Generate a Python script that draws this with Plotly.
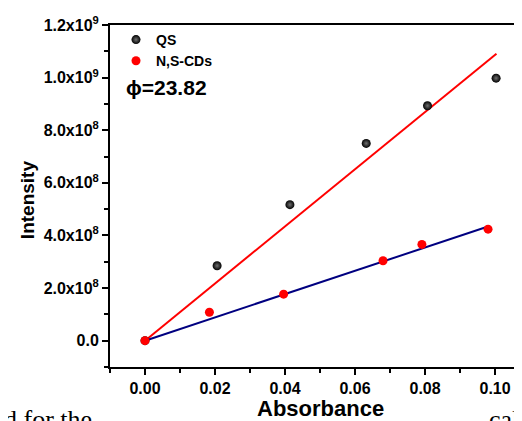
import plotly.graph_objects as go

# Data
qs_abs = [0.0, 0.0206, 0.0414, 0.0632, 0.0807, 0.1003]
qs_int = [0.0, 2.85e8, 5.17e8, 7.5e8, 8.93e8, 9.98e8]
cd_abs = [0.0, 0.0184, 0.0396, 0.068, 0.0791, 0.098]
cd_int = [0.0, 1.08e8, 1.77e8, 3.04e8, 3.66e8, 4.24e8]
qs_fit_x = [0.0, 0.1004]
qs_fit_y = [0.0, 1.091e9]
cd_fit_x = [0.0, 0.098]
cd_fit_y = [0.0, 4.34e8]

x_ticks = [0.0, 0.02, 0.04, 0.06, 0.08, 0.10]
x_ticktext = ["0.00", "0.02", "0.04", "0.06", "0.08", "0.10"]
y_ticks = [0, 2e8, 4e8, 6e8, 8e8, 1.0e9, 1.2e9]
y_ticktext = ["0.0", "2.0x10<sup>8</sup>", "4.0x10<sup>8</sup>", "6.0x10<sup>8</sup>",
              "8.0x10<sup>8</sup>", "1.0x10<sup>9</sup>", "1.2x10<sup>9</sup>"]

FONT = "Arial, Liberation Sans, sans-serif"
SERIF = "Liberation Serif, Times New Roman, serif"

# the page body adds an 8px offset; layout is computed in screen pixels
OFF = 8
W, H = 522, 421
L, T = 110 - OFF, 25 - OFF
R = 522 - (522 - OFF)  # plot reaches the right screen edge
B = H - (366.7 - OFF)
PW, PH = W - L - R, H - T - B


def px(xs):
    return (xs - OFF - L) / PW


def py(ys):
    return (H - B - (ys - OFF)) / PH


fig = go.Figure()
fig.add_trace(go.Scatter(x=qs_fit_x, y=qs_fit_y, mode="lines",
                         line=dict(color="#ff0000", width=2), showlegend=False))
fig.add_trace(go.Scatter(x=cd_fit_x, y=cd_fit_y, mode="lines",
                         line=dict(color="#000080", width=2), showlegend=False))
fig.add_trace(go.Scatter(x=qs_abs, y=qs_int, mode="markers", name="QS",
                         marker=dict(color="#000000", size=9,
                                     gradient=dict(type="radial", color="#707070"),
                                     line=dict(width=0))))
fig.add_trace(go.Scatter(x=cd_abs, y=cd_int, mode="markers", name="N,S-CDs",
                         marker=dict(color="#ff0000", size=9, line=dict(width=0))))

fig.update_layout(
    width=W, height=H,
    margin=dict(l=L, r=R, t=T, b=B, autoexpand=False),
    paper_bgcolor="white", plot_bgcolor="white",
    font=dict(family=FONT, color="black"),
    showlegend=True,
    legend=dict(x=px(116), y=py(24), xanchor="left", yanchor="top",
                bgcolor="rgba(0,0,0,0)", borderwidth=0,
                font=dict(family=FONT, size=14, color="black", weight="bold"),
                tracegroupgap=0, itemwidth=30),
    annotations=[
        dict(text="<b>ϕ=23.82</b>", xref="paper", yref="paper",
             x=px(124), y=py(87), xanchor="left", yanchor="middle",
             showarrow=False, font=dict(family=FONT, size=21, color="black")),
        dict(text="<b>Absorbance</b>", xref="paper", yref="paper",
             x=px(320), y=py(408), xanchor="center", yanchor="middle",
             showarrow=False, font=dict(family=FONT, size=22, color="black")),
        dict(text="<b>Intensity</b>", xref="paper", yref="paper",
             x=px(27), y=py(200), xanchor="center", yanchor="middle", textangle=-90,
             showarrow=False, font=dict(family=FONT, size=19, color="black")),
        dict(text="d for the", xref="paper", yref="paper",
             x=px(2), y=py(419), xanchor="left", yanchor="middle",
             showarrow=False, font=dict(family=SERIF, size=26, color="black")),
        dict(text="cal", xref="paper", yref="paper",
             x=px(487), y=py(419), xanchor="left", yanchor="middle",
             showarrow=False, font=dict(family=SERIF, size=26, color="black")),
    ],
)

fig.update_xaxes(
    range=[-0.01, 0.1077], tickvals=x_ticks, ticktext=x_ticktext, automargin=False,
    showgrid=False, zeroline=False,
    showline=True, linecolor="black", linewidth=2, mirror=True,
    ticks="outside", ticklen=6, tickwidth=2, tickcolor="black",
    minor=dict(dtick=0.01, tick0=0, ticks="outside", ticklen=4, tickwidth=1.5, tickcolor="black"),
    tickfont=dict(family=FONT, size=16, color="black", weight="bold"),
)
fig.update_yaxes(
    range=[-1e8, 1.2e9], tickvals=y_ticks, ticktext=y_ticktext, automargin=False,
    showgrid=False, zeroline=False,
    showline=True, linecolor="black", linewidth=2,
    ticks="outside", ticklen=6, tickwidth=2, tickcolor="black",
    minor=dict(dtick=1e8, tick0=0, ticks="outside", ticklen=4, tickwidth=1.5, tickcolor="black"),
    tickfont=dict(family=FONT, size=16, color="black", weight="bold"),
)

fig.write_html("out.html")
